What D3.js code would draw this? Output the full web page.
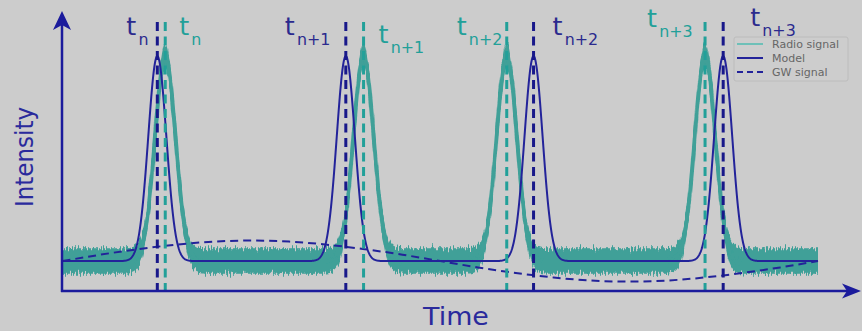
<!DOCTYPE html>
<html>
<head>
<meta charset="utf-8">
<script src="https://cdn.jsdelivr.net/npm/d3@7"></script>
<style>
  html, body { margin: 0; padding: 0; background: #cccccc; }
  svg { display: block; font-family: "DejaVu Sans", sans-serif; }
</style>
</head>
<body>
<svg id="chart" width="862" height="331"></svg>
<script>
// Pulse arrival times (time units, 0–100 across the trace)
const modelTimes = [12.55, 37.5, 62.35, 87.45];
const radioTimes = [13.6, 39.85, 58.8, 85.05];
const subscripts = ["n", "n+1", "n+2", "n+3"];

// Pulse shape parameters
const modelPeak = 1.0, modelWidth = 1.2;
const radioPeak = 1.0, radioWidth = 1.35;
const radioNoise = 0.062;

// Slow gravitational-wave modulation, read at regular times
const gwTimes  = [0, 5, 10, 15, 20, 25, 30, 35, 40, 45, 50, 55, 60, 65, 70, 75, 80, 85, 90, 95, 100];
const gwValues = [0, 0.031, 0.058, 0.080, 0.095, 0.100, 0.095, 0.080, 0.058, 0.031, 0,
                  -0.031, -0.058, -0.080, -0.095, -0.100, -0.095, -0.080, -0.058, -0.031, 0];

const legendItems = ["Radio signal", "Model", "GW signal"];

const NAVY = "#23239a", TEAL = "#3fa098", TEAL_DARK = "#22a099", LABEL_NAVY = "#2b2a8e";

const svg = d3.select("#chart");
const x = d3.scaleLinear().domain([0, 100]).range([62.5, 818]);
const y = d3.scaleLinear().domain([-0.146, 1.215]).range([291, 12]);

// sample the pulse trains
const ts = d3.range(0, 100.0001, 0.05);
const pulse = (t, centers, amp, w) =>
  d3.sum(centers, c => amp * Math.exp(-((t - c) ** 2) / (2 * w * w)));
const model = ts.map(t => [t, pulse(t, modelTimes, modelPeak, modelWidth)]);
const radio = ts.map(t => [t, pulse(t, radioTimes, radioPeak, radioWidth)]);

// jagged edge texture for the radio trace: vertical jitter only
const defs = svg.append("defs");
const f = defs.append("filter").attr("id", "noisy")
  .attr("x", "-2%").attr("y", "-20%").attr("width", "104%").attr("height", "140%");
f.append("feTurbulence").attr("type", "fractalNoise").attr("baseFrequency", "0.6 0.04")
  .attr("numOctaves", 2).attr("seed", 7).attr("result", "n");
f.append("feColorMatrix").attr("in", "n").attr("type", "matrix")
  .attr("values", "0 0 0 0 0.5  0 1 0 0 0  0 0 0 0 0  0 0 0 0 1").attr("result", "ny");
f.append("feDisplacementMap").attr("in", "SourceGraphic").attr("in2", "ny")
  .attr("scale", 14).attr("xChannelSelector", "R").attr("yChannelSelector", "G");

// radio trace: noisy band around the pulse train
const radioG = svg.append("g").attr("filter", "url(#noisy)");
radioG.append("path")
  .datum(radio)
  .attr("fill", TEAL)
  .attr("d", d3.area()
    .x(d => x(d[0]))
    .y0(d => y(d[1] - radioNoise))
    .y1(d => y(d[1] + radioNoise)));
radioG.append("path")
  .datum(radio)
  .attr("fill", "none").attr("stroke", TEAL).attr("stroke-width", 4)
  .attr("d", d3.line().x(d => x(d[0])).y(d => y(d[1])));

// model
svg.append("path")
  .datum(model)
  .attr("fill", "none").attr("stroke", NAVY).attr("stroke-width", 2)
  .attr("d", d3.line().x(d => x(d[0])).y(d => y(d[1])));

// GW modulation
svg.append("path")
  .datum(d3.zip(gwTimes, gwValues))
  .attr("fill", "none").attr("stroke", NAVY).attr("stroke-width", 2)
  .attr("stroke-dasharray", "8,5")
  .attr("d", d3.line().curve(d3.curveNatural).x(d => x(d[0])).y(d => y(d[1])));

// arrival-time markers
const vTop = 22, vBottom = 291;
svg.selectAll("line.model-t").data(modelTimes).join("line")
  .attr("x1", d => x(d)).attr("x2", d => x(d))
  .attr("y1", vTop).attr("y2", vBottom)
  .attr("stroke", "#18188a").attr("stroke-width", 3).attr("stroke-dasharray", "9,5.5");
svg.selectAll("line.radio-t").data(radioTimes).join("line")
  .attr("x1", d => x(d)).attr("x2", d => x(d))
  .attr("y1", vTop).attr("y2", vBottom)
  .attr("stroke", TEAL_DARK).attr("stroke-width", 3).attr("stroke-dasharray", "9,5.5");

// axes with arrowheads
const ax = svg.append("g").attr("fill", "#1b1b9c").attr("stroke", "#1b1b9c");
ax.append("line").attr("x1", 62).attr("x2", 62).attr("y1", 292).attr("y2", 20).attr("stroke-width", 2.5);
ax.append("line").attr("x1", 61).attr("x2", 852).attr("y1", 291).attr("y2", 291).attr("stroke-width", 2.5);
ax.append("path").attr("stroke", "none").attr("d", "M62,11 L71,30 L62,25 L53,30 Z");
ax.append("path").attr("stroke", "none").attr("d", "M861,291 L842,283.5 L847,291 L842,298.5 Z");

// axis titles
svg.append("text").attr("fill", "#2a2a9c").attr("font-size", 24)
  .attr("text-anchor", "middle")
  .attr("transform", "translate(456,325) scale(1.12,1)")
  .text("Time");
svg.append("text").attr("fill", "#2a2a9c").attr("font-size", 23)
  .attr("text-anchor", "middle")
  .attr("transform", "translate(33,157) scale(1.08,1) rotate(-90)")
  .text("Intensity");

// time labels: placement relative to each marker
const modelLabelPos = [[-31, 35], [-61, 35], [19, 35], [27, 26]];
const radioLabelPos = [[14, 35], [15, 43], [-50, 35], [-58, 27]];
function timeLabel(tx, sub, pos, color) {
  const t = svg.append("text").attr("fill", color)
    .attr("transform", `translate(${x(tx) + pos[0]},${pos[1]}) scale(1.06,1)`);
  t.append("tspan").attr("font-size", 24).text("t");
  t.append("tspan").attr("font-size", 15).attr("dx", 2).attr("dy", 10).text(sub);
}
modelTimes.forEach((d, i) => timeLabel(d, subscripts[i], modelLabelPos[i], LABEL_NAVY));
radioTimes.forEach((d, i) => timeLabel(d, subscripts[i], radioLabelPos[i], TEAL_DARK));

// legend
const lg = svg.append("g").attr("transform", "translate(734,37)");
lg.append("rect").attr("width", 114).attr("height", 44).attr("rx", 2)
  .attr("fill", "#cdcdcd").attr("stroke", "#bcbcbc").attr("stroke-width", 1);
const legendStyles = [
  { stroke: "#6ec0b8", dash: null },
  { stroke: NAVY, dash: null },
  { stroke: NAVY, dash: "6,4" }
];
legendItems.forEach((name, i) => {
  const yy = 7 + i * 14;
  lg.append("line").attr("x1", 3).attr("x2", 29).attr("y1", yy).attr("y2", yy)
    .attr("stroke", legendStyles[i].stroke).attr("stroke-width", 2)
    .attr("stroke-dasharray", legendStyles[i].dash);
  lg.append("text").attr("x", 38).attr("y", yy + 4).attr("font-size", 11)
    .attr("fill", "#666666").text(name);
});
</script>
</body>
</html>
